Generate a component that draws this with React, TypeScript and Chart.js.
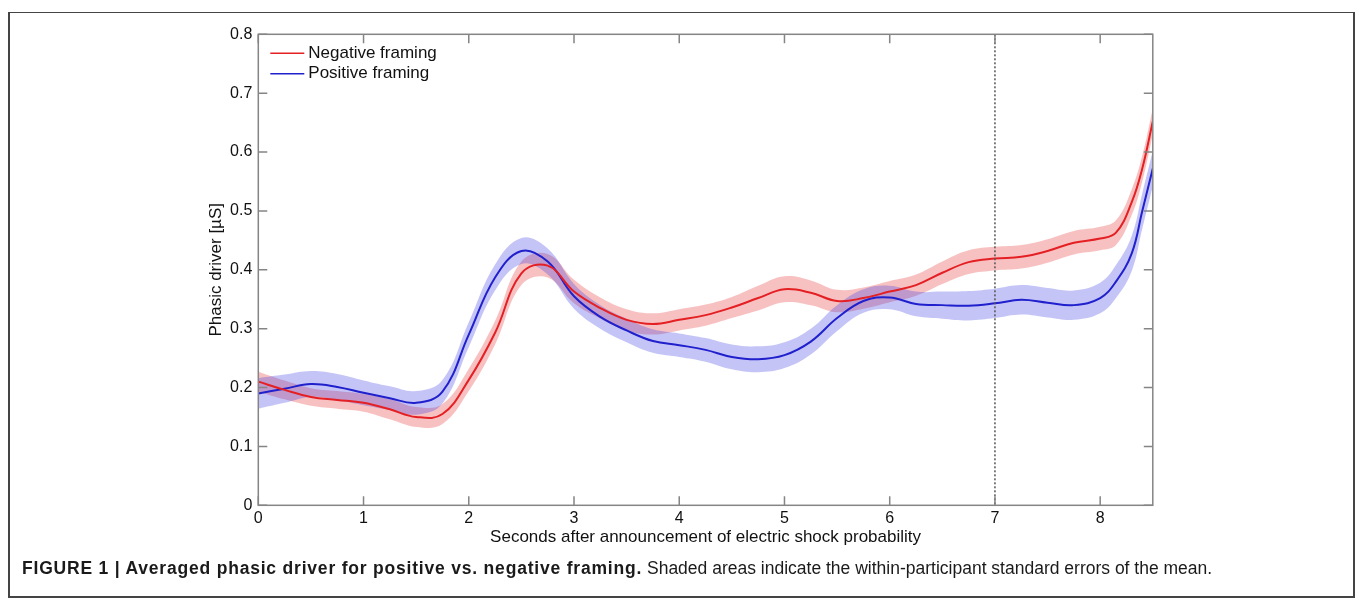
import React, { useEffect, useRef } from "react";
import { Chart, registerables } from "chart.js";

Chart.register(...registerables);

const times = [0, 0.25, 0.5, 0.75, 1.0, 1.25, 1.5, 1.75, 2.0, 2.25, 2.5, 2.75, 3.0, 3.25, 3.5, 3.75, 4.0, 4.25, 4.5, 4.75, 5.0, 5.25, 5.5, 5.75, 6.0, 6.25, 6.5, 6.75, 7.0, 7.25, 7.5, 7.75, 8.0, 8.15, 8.3, 8.4, 8.5];

const negativeMean = [0.210, 0.196, 0.184, 0.179, 0.174, 0.163, 0.150, 0.155, 0.213, 0.293, 0.394, 0.407, 0.363, 0.335, 0.315, 0.308, 0.315, 0.323, 0.336, 0.352, 0.367, 0.361, 0.347, 0.352, 0.363, 0.374, 0.395, 0.413, 0.419, 0.422, 0.432, 0.446, 0.453, 0.463, 0.515, 0.572, 0.652];
const negativeSE = [0.017, 0.016, 0.015, 0.015, 0.015, 0.017, 0.017, 0.017, 0.019, 0.020, 0.020, 0.020, 0.020, 0.018, 0.018, 0.018, 0.018, 0.018, 0.018, 0.021, 0.022, 0.021, 0.019, 0.018, 0.018, 0.018, 0.019, 0.020, 0.020, 0.020, 0.020, 0.020, 0.020, 0.021, 0.022, 0.022, 0.022];

const positiveMean = [0.190, 0.198, 0.206, 0.201, 0.191, 0.182, 0.174, 0.193, 0.290, 0.387, 0.432, 0.414, 0.355, 0.320, 0.297, 0.279, 0.272, 0.264, 0.252, 0.248, 0.255, 0.278, 0.318, 0.347, 0.353, 0.342, 0.340, 0.339, 0.343, 0.349, 0.344, 0.340, 0.352, 0.380, 0.428, 0.500, 0.572];
const positiveSE = [0.026, 0.024, 0.022, 0.022, 0.021, 0.020, 0.020, 0.020, 0.021, 0.022, 0.022, 0.022, 0.021, 0.020, 0.020, 0.020, 0.020, 0.020, 0.021, 0.022, 0.022, 0.022, 0.022, 0.020, 0.020, 0.021, 0.023, 0.025, 0.025, 0.025, 0.025, 0.025, 0.026, 0.028, 0.030, 0.030, 0.030];

const xTicks = [0, 1, 2, 3, 4, 5, 6, 7, 8];
const yTicks = [0, 0.1, 0.2, 0.3, 0.4, 0.5, 0.6, 0.7, 0.8];
const yTickLabels = ["0", "0.1", "0.2", "0.3", "0.4", "0.5", "0.6", "0.7", "0.8"];
const markerTime = 7;

const xTitle = "Seconds after announcement of electric shock probability";
const yTitle = "Phasic driver [µS]";
const seriesLabels = ["Negative framing", "Positive framing"];

const FONT = "'Liberation Sans', Arial, Helvetica, sans-serif";
const RED = "rgb(228,32,36)";
const BLUE = "rgb(32,32,205)";
const RED_BAND = "rgba(232,50,50,0.3)";
const BLUE_BAND = "rgba(60,60,228,0.3)";
const TENSION = 0.4;

const pts = (ys: number[]) => times.map((t, i) => ({ x: t, y: ys[i] }));
const band = (m: number[], s: number[], sign: number) => times.map((t, i) => ({ x: t, y: m[i] + sign * s[i] }));

const framePlugin = {
  id: "framePlugin",
  afterDatasetsDraw(chart: any) {
    const { ctx, chartArea: a, scales } = chart;
    const xs = scales.x;
    const ys = scales.y;
    ctx.save();
    const mx = xs.getPixelForValue(markerTime);
    ctx.strokeStyle = "#555";
    ctx.lineWidth = 1.5;
    ctx.setLineDash([2, 2]);
    ctx.beginPath();
    ctx.moveTo(mx, a.top);
    ctx.lineTo(mx, a.bottom);
    ctx.stroke();
    ctx.setLineDash([]);
    ctx.strokeStyle = "#858585";
    ctx.lineWidth = 1.5;
    ctx.strokeRect(a.left, a.top, a.right - a.left, a.bottom - a.top);
    const tl = 9;
    ctx.beginPath();
    xTicks.forEach((v) => {
      const px = xs.getPixelForValue(v);
      ctx.moveTo(px, a.bottom);
      ctx.lineTo(px, a.bottom - tl);
      ctx.moveTo(px, a.top);
      ctx.lineTo(px, a.top + tl);
    });
    yTicks.forEach((v) => {
      const py = ys.getPixelForValue(v);
      ctx.moveTo(a.left, py);
      ctx.lineTo(a.left + tl, py);
      ctx.moveTo(a.right, py);
      ctx.lineTo(a.right - tl, py);
    });
    ctx.stroke();
    ctx.font = `17px ${FONT}`;
    ctx.textBaseline = "middle";
    ctx.textAlign = "left";
    const colors = [RED, BLUE];
    seriesLabels.forEach((lab, i) => {
      const y = a.top + 19 + i * 20.5;
      ctx.strokeStyle = colors[i];
      ctx.lineWidth = 1.6;
      ctx.beginPath();
      ctx.moveTo(a.left + 12, y);
      ctx.lineTo(a.left + 46, y);
      ctx.stroke();
      ctx.fillStyle = "#111";
      ctx.fillText(lab, a.left + 50, y);
    });
    ctx.fillStyle = "#111";
    ctx.textAlign = "center";
    ctx.fillText(xTitle, (a.left + a.right) / 2, a.bottom + 32);
    ctx.translate(a.left - 42, (a.top + a.bottom) / 2);
    ctx.rotate(-Math.PI / 2);
    ctx.fillText(yTitle, 0, 0);
    ctx.restore();
  },
};

export default function App() {
  const ref = useRef<HTMLCanvasElement | null>(null);
  useEffect(() => {
    if (!ref.current) return;
    const common = { pointRadius: 0, tension: TENSION, cubicInterpolationMode: "default" };
    const chart = new Chart(ref.current, {
      type: "line",
      data: {
        datasets: [
          { ...common, label: seriesLabels[0], data: pts(negativeMean), borderColor: RED, borderWidth: 2, fill: false, order: 0 },
          { ...common, label: seriesLabels[1], data: pts(positiveMean), borderColor: BLUE, borderWidth: 2, fill: false, order: 0 },
          { ...common, label: "neg upper", data: band(negativeMean, negativeSE, 1), borderWidth: 0, borderColor: "transparent", fill: false, order: 2 },
          { ...common, label: "neg lower", data: band(negativeMean, negativeSE, -1), borderWidth: 0, borderColor: "transparent", backgroundColor: RED_BAND, fill: 2, order: 2 },
          { ...common, label: "pos upper", data: band(positiveMean, positiveSE, 1), borderWidth: 0, borderColor: "transparent", fill: false, order: 1 },
          { ...common, label: "pos lower", data: band(positiveMean, positiveSE, -1), borderWidth: 0, borderColor: "transparent", backgroundColor: BLUE_BAND, fill: 4, order: 1 },
        ] as any,
      },
      options: {
        animation: false,
        responsive: false,
        devicePixelRatio: 1,
        layout: { padding: { left: 198.3, right: 207.2, top: 34.3, bottom: 72.7 } },
        plugins: { legend: { display: false }, tooltip: { enabled: false }, filler: { propagate: false } },
        scales: {
          x: {
            type: "linear",
            min: 0,
            max: 8.5,
            grid: { display: false, drawTicks: false },
            border: { display: false },
            afterFit: (s: any) => { s.height = 30; },
            afterBuildTicks: (s: any) => { s.ticks = xTicks.map((v) => ({ value: v })); },
            ticks: { color: "#111", font: { family: FONT, size: 16 }, padding: 4, maxRotation: 0, callback: (v: any) => String(v) },
          },
          y: {
            type: "linear",
            min: 0,
            max: 0.8,
            grid: { display: false, drawTicks: false },
            border: { display: false },
            afterFit: (s: any) => { s.width = 60; },
            afterBuildTicks: (s: any) => { s.ticks = yTicks.map((v) => ({ value: v })); },
            ticks: { color: "#111", font: { family: FONT, size: 16 }, padding: 6, callback: (v: any, i: number) => yTickLabels[i] },
          },
        },
      } as any,
      plugins: [framePlugin],
    });
    return () => chart.destroy();
  }, []);

  return (
    <div style={{ position: "fixed", left: 0, top: 0, width: 1360, height: 608, background: "#fff", overflow: "hidden" }}>
      <canvas ref={ref} width={1360} height={608} style={{ position: "absolute", left: 0, top: 0, width: 1360, height: 608 }} />
      <div style={{ position: "absolute", left: 8, top: 12, width: 1347, height: 586, border: "2px solid #444", borderTopWidth: 1.5, boxSizing: "border-box", pointerEvents: "none" }} />
      <div style={{ position: "absolute", left: 22, top: 556, fontFamily: FONT, fontSize: 17.5, lineHeight: "24px", color: "#1a1a1a", whiteSpace: "nowrap" }}>
        <b style={{ letterSpacing: "0.8px" }}>FIGURE 1 | Averaged phasic driver for positive vs. negative framing.</b> Shaded areas indicate the within-participant standard errors of the mean.
      </div>
    </div>
  );
}
